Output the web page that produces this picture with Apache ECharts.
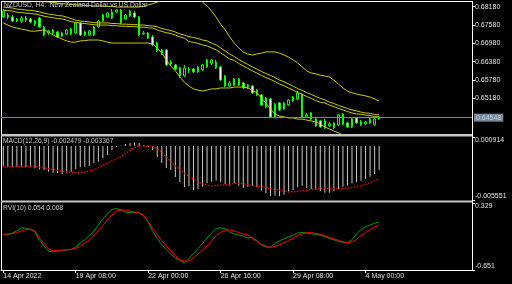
<!DOCTYPE html>
<html><head><meta charset="utf-8">
<script src="https://cdn.jsdelivr.net/npm/echarts@6/dist/echarts.min.js"></script>
<style>html,body{margin:0;padding:0;background:#000}#c{width:512px;height:284px}</style>
</head><body><div id="c"></div><script>
const symbolTitle = 'NZDUSD, H4:  New Zealand Dollar vs US Dollar';

const opens = [0.67843,0.67843,0.67843,0.67712,0.67712,0.67745,0.67777,0.67712,0.67810,0.67516,
0.67320,0.67320,0.67352,0.67221,0.67287,0.67287,0.67320,0.67647,0.67254,0.67254,
0.67254,0.67516,0.67712,0.67843,0.67810,0.68006,0.68072,0.67777,0.67876,0.67974,
0.67843,0.67287,0.67320,0.67189,0.66992,0.66665,0.66764,0.66306,0.66273,0.66175,
0.65913,0.66110,0.66142,0.66044,0.66110,0.66208,0.66338,0.66371,0.66208,0.65913,
0.65586,0.65619,0.65815,0.65684,0.65554,0.65586,0.65456,0.65292,0.65194,0.65161,
0.64573,0.65030,0.64834,0.64965,0.65096,0.65161,0.65325,0.64573,0.64703,0.64507,
0.64442,0.64213,0.64278,0.64213,0.64311,0.64671,0.64376,0.64246,0.64540,0.64311,
0.64344,0.64376,0.64311,0.64507];
const closes = [0.68039,0.67908,0.67712,0.67777,0.67810,0.67810,0.67679,0.67614,0.67516,0.67254,
0.67385,0.67418,0.67189,0.67320,0.67418,0.67450,0.67647,0.67254,0.67352,0.67385,
0.67516,0.67712,0.67908,0.67974,0.68006,0.68072,0.67647,0.67908,0.68039,0.67843,
0.67254,0.67320,0.67156,0.66927,0.66731,0.66764,0.66273,0.66371,0.66142,0.65913,
0.66175,0.66142,0.66044,0.66208,0.66273,0.66437,0.66437,0.66175,0.65783,0.65586,
0.65684,0.65815,0.65619,0.65521,0.65619,0.65357,0.65292,0.64965,0.64900,0.64573,
0.64998,0.64802,0.65030,0.65129,0.65227,0.65357,0.64573,0.64638,0.64507,0.64278,
0.64246,0.64442,0.64344,0.64376,0.64638,0.64344,0.64246,0.64507,0.64376,0.64409,
0.64409,0.64507,0.64507,0.64548];
const lows = [0.67810,0.67777,0.67679,0.67679,0.67647,0.67679,0.67647,0.67548,0.67500,0.67221,
0.67254,0.67254,0.67156,0.67189,0.67254,0.67254,0.67287,0.67221,0.67221,0.67221,
0.67221,0.67483,0.67679,0.67810,0.67777,0.67974,0.67614,0.67745,0.67843,0.67810,
0.67221,0.67254,0.67123,0.66894,0.66698,0.66600,0.66240,0.66240,0.66110,0.65848,
0.65881,0.66011,0.66011,0.66011,0.66077,0.66175,0.66273,0.66142,0.65750,0.65554,
0.65554,0.65586,0.65586,0.65488,0.65488,0.65325,0.65259,0.64932,0.64867,0.64540,
0.64540,0.64769,0.64802,0.64932,0.65063,0.65129,0.64540,0.64540,0.64475,0.64246,
0.64213,0.64180,0.64246,0.64180,0.64278,0.64311,0.64213,0.64213,0.64344,0.64278,
0.64311,0.64344,0.64278,0.64475];
const highs = [0.68104,0.67974,0.67908,0.67810,0.67876,0.67876,0.67810,0.67745,0.67843,0.67548,
0.67418,0.67450,0.67385,0.67352,0.67450,0.67483,0.67679,0.67679,0.67385,0.67418,
0.67548,0.67745,0.67941,0.68006,0.68104,0.68104,0.68104,0.67941,0.68072,0.68039,
0.67876,0.67385,0.67352,0.67254,0.67025,0.66796,0.66796,0.66437,0.66306,0.66208,
0.66273,0.66208,0.66175,0.66240,0.66306,0.66469,0.66469,0.66437,0.66240,0.65946,
0.65750,0.65848,0.65848,0.65717,0.65652,0.65619,0.65488,0.65325,0.65227,0.65194,
0.65030,0.65063,0.65063,0.65161,0.65259,0.65423,0.65357,0.64703,0.64736,0.64540,
0.64475,0.64507,0.64409,0.64409,0.64671,0.64703,0.64409,0.64540,0.64573,0.64475,
0.64442,0.64540,0.64540,0.64605];

const bbUpper = [0.6853,0.6850,0.6848,0.6847,0.6845,0.6843,0.6842,0.6840,0.6837,0.6835,
0.6833,0.6832,0.6830,0.6828,0.6827,0.6825,0.6824,0.6824,0.6822,0.6822,
0.6820,0.6820,0.6820,0.6819,0.6819,0.6817,0.6817,0.6817,0.6817,0.6817,
0.6817,0.6819,0.6824,0.6828,0.6833,0.6840,0.6847,0.6850,0.6853,0.6853,
0.6853,0.6851,0.6848,0.6843,0.6833,0.6820,0.6804,0.6784,0.6761,0.6742,
0.6719,0.6699,0.6683,0.6670,0.6663,0.6660,0.6663,0.6666,0.6670,0.6670,
0.6670,0.6666,0.6660,0.6653,0.6644,0.6634,0.6621,0.6608,0.6601,0.6598,
0.6594,0.6591,0.6588,0.6578,0.6565,0.6552,0.6542,0.6536,0.6532,0.6529,
0.6526,0.6522,0.6516,0.6509];
const bbMiddle = [0.6817,0.6815,0.6814,0.6810,0.6809,0.6807,0.6806,0.6804,0.6801,0.6797,
0.6794,0.6792,0.6789,0.6788,0.6784,0.6779,0.6774,0.6771,0.6770,0.6768,
0.6766,0.6765,0.6765,0.6765,0.6763,0.6763,0.6761,0.6761,0.6760,0.6760,
0.6758,0.6758,0.6756,0.6755,0.6752,0.6747,0.6743,0.6740,0.6735,0.6729,
0.6725,0.6720,0.6717,0.6714,0.6709,0.6706,0.6699,0.6693,0.6683,0.6673,
0.6663,0.6655,0.6645,0.6637,0.6629,0.6621,0.6614,0.6606,0.6599,0.6593,
0.6586,0.6578,0.6572,0.6565,0.6558,0.6550,0.6544,0.6537,0.6531,0.6524,
0.6518,0.6513,0.6506,0.6501,0.6495,0.6490,0.6485,0.6480,0.6477,0.6473,
0.6470,0.6469,0.6465,0.6464];
const maLine = [0.6807,0.6805,0.6804,0.6800,0.6799,0.6797,0.6796,0.6794,0.6791,0.6787,
0.6784,0.6782,0.6779,0.6778,0.6774,0.6769,0.6767,0.6764,0.6763,0.6761,
0.6759,0.6758,0.6758,0.6758,0.6756,0.6756,0.6754,0.6754,0.6753,0.6753,
0.6751,0.6751,0.6749,0.6748,0.6742,0.6737,0.6733,0.6730,0.6725,0.6719,
0.6715,0.6704,0.6701,0.6698,0.6693,0.6690,0.6683,0.6677,0.6667,0.6657,
0.6647,0.6642,0.6632,0.6624,0.6616,0.6608,0.6601,0.6593,0.6586,0.6580,
0.6573,0.6565,0.6559,0.6552,0.6545,0.6537,0.6531,0.6524,0.6518,0.6511,
0.6505,0.6503,0.6496,0.6491,0.6485,0.6480,0.6475,0.6470,0.6467,0.6466,
0.6463,0.6462,0.6458,0.6457];
const bbLower = [0.6765,0.6758,0.6752,0.6748,0.6745,0.6742,0.6738,0.6738,0.6740,0.6742,
0.6735,0.6725,0.6719,0.6712,0.6706,0.6702,0.6702,0.6706,0.6707,0.6709,
0.6709,0.6709,0.6706,0.6702,0.6699,0.6699,0.6699,0.6699,0.6699,0.6699,
0.6699,0.6699,0.6699,0.6696,0.6683,0.6666,0.6644,0.6624,0.6608,0.6588,
0.6571,0.6558,0.6549,0.6545,0.6542,0.6545,0.6549,0.6549,0.6552,0.6552,
0.6552,0.6555,0.6555,0.6555,0.6552,0.6545,0.6536,0.6519,0.6503,0.6483,
0.6467,0.6460,0.6457,0.6454,0.6454,0.6450,0.6450,0.6447,0.6444,0.6441,
0.6434,0.6424,0.6418,0.6411,0.6405,0.6398,0.6395,0.6391,0.6388,0.6388,
0.6388,0.6385,0.6385,0.6385];

const macdMain = [-0.002114,-0.002134,-0.002134,-0.002134,-0.002196,-0.002196,-0.002196,-0.002298,-0.002401,-0.002473,
-0.002647,-0.002750,-0.002811,-0.002914,-0.002750,-0.002647,-0.002401,-0.002196,-0.002134,-0.002062,
-0.001785,-0.001621,-0.001272,-0.000934,-0.000421,-0.000113,0.000041,0.000195,0.000298,0.000349,
0.000298,0.000092,-0.000113,-0.000421,-0.001139,-0.001754,-0.002267,-0.002473,-0.003191,-0.003704,
-0.004217,-0.004114,-0.004525,-0.004422,-0.004186,-0.003837,-0.003673,-0.003570,-0.003735,-0.003909,
-0.004083,-0.003837,-0.004083,-0.004319,-0.004186,-0.004083,-0.004248,-0.004596,-0.004863,-0.005140,
-0.005109,-0.005171,-0.005007,-0.004761,-0.004525,-0.004248,-0.004083,-0.004350,-0.004422,-0.004525,
-0.004658,-0.004802,-0.004802,-0.004658,-0.004422,-0.004186,-0.004083,-0.003837,-0.003735,-0.003570,
-0.003396,-0.003160,-0.002883,-0.002479];
const macdSignal = [-0.002165,-0.002144,-0.002124,-0.002103,-0.002083,-0.002073,-0.002062,-0.002073,-0.002165,-0.002247,
-0.002329,-0.002421,-0.002503,-0.002586,-0.002668,-0.002709,-0.002739,-0.002780,-0.002698,-0.002575,
-0.002473,-0.002237,-0.001990,-0.001754,-0.001539,-0.001324,-0.001098,-0.000780,-0.000451,-0.000174,
-0.000041,-0.000010,-0.000010,-0.000041,-0.000318,-0.000677,-0.001118,-0.001652,-0.002062,-0.002421,
-0.002780,-0.003140,-0.003396,-0.003704,-0.003889,-0.004042,-0.004114,-0.004073,-0.004032,-0.003981,
-0.003930,-0.003868,-0.003806,-0.003878,-0.003960,-0.004042,-0.004114,-0.004196,-0.004289,-0.004381,
-0.004463,-0.004545,-0.004627,-0.004709,-0.004719,-0.004658,-0.004586,-0.004525,-0.004473,-0.004412,
-0.004350,-0.004330,-0.004350,-0.004381,-0.004412,-0.004391,-0.004340,-0.004278,-0.004217,-0.004094,
-0.003940,-0.003786,-0.003581,-0.003367];

const rviMain = [-0.132,-0.139,-0.110,-0.081,-0.037,-0.037,-0.059,-0.095,-0.212,-0.300,
-0.373,-0.388,-0.373,-0.366,-0.359,-0.351,-0.315,-0.256,-0.205,-0.146,
-0.088,0.007,0.095,0.168,0.234,0.249,0.227,0.197,0.193,0.192,
0.187,0.139,0.051,-0.088,-0.190,-0.278,-0.351,-0.417,-0.476,-0.512,
-0.549,-0.483,-0.410,-0.337,-0.263,-0.183,-0.110,-0.044,-0.034,-0.051,
-0.095,-0.124,-0.139,-0.154,-0.183,-0.176,-0.220,-0.285,-0.315,-0.315,
-0.263,-0.222,-0.198,-0.168,-0.139,-0.110,-0.103,-0.110,-0.119,-0.130,
-0.142,-0.164,-0.187,-0.209,-0.233,-0.246,-0.249,-0.209,-0.124,-0.059,
-0.018,0.007,0.034,0.054];
const rviSignal = [-0.129,-0.124,-0.117,-0.103,-0.081,-0.063,-0.051,-0.081,-0.183,-0.263,
-0.337,-0.370,-0.366,-0.361,-0.356,-0.347,-0.337,-0.300,-0.259,-0.212,
-0.154,-0.073,0.000,0.080,0.154,0.212,0.227,0.224,0.212,0.197,
0.183,0.154,0.058,-0.044,-0.132,-0.220,-0.300,-0.373,-0.439,-0.502,
-0.519,-0.519,-0.476,-0.417,-0.359,-0.300,-0.227,-0.146,-0.103,-0.066,
-0.063,-0.081,-0.103,-0.124,-0.139,-0.190,-0.234,-0.275,-0.303,-0.322,
-0.304,-0.285,-0.253,-0.220,-0.187,-0.146,-0.122,-0.107,-0.104,-0.116,
-0.127,-0.151,-0.173,-0.195,-0.217,-0.239,-0.252,-0.239,-0.205,-0.146,
-0.107,-0.062,-0.025,0.008];

const tickIndex = [0, 16, 32, 48, 64, 80];
const tickLabels = ['14 Apr 2022', '19 Apr 08:00', '22 Apr 00:00', '26 Apr 16:00', '29 Apr 08:00', '4 May 00:00'];
const priceTicks = [0.68180, 0.67580, 0.66980, 0.66380, 0.65780, 0.65180];
const priceRange = [0.64013, 0.68334];
const macdRange = [-0.005551, 0.000914];
const rviRange = [-0.651, 0.329];
const slotCount = 104;

const slots = [];
for (let i = 0; i < slotCount; i++) slots.push(String(i));
const candleData = opens.map((o, i) => [o, closes[i], lows[i], highs[i]]);
const last = closes.length - 1;
const bid = closes[last];
const macdTitle = 'MACD(12,26,9) ' + macdMain[last].toFixed(6) + ' ' + macdSignal[last].toFixed(6);
const rviTitle = 'RVI(10) ' + rviMain[last].toFixed(3) + ' ' + rviSignal[last].toFixed(3);

const FONT = 'Liberation Sans';
const TXT = '#e0e0e0';
const lbl = { color: TXT, fontSize: 7, fontFamily: FONT, margin: 3 };
const showTick = (idx) => tickIndex.indexOf(idx) >= 0;

function xAx(g, show) {
  return {
    type: 'category', gridIndex: g, data: slots, boundaryGap: true, show: show,
    axisLine: { show: show, onZero: false, lineStyle: { color: '#ffffff', width: 1 } },
    axisTick: { show: show, alignWithLabel: true, interval: showTick, length: 3, lineStyle: { color: '#ffffff' } },
    axisLabel: Object.assign({}, lbl, {
      show: show, interval: showTick, align: 'left',
      formatter: (v, idx) => { const k = tickIndex.indexOf(idx); return k >= 0 ? tickLabels[k] : ''; }
    }),
    splitLine: { show: false }
  };
}
function yAx(g, range, ticks, dec, edge) {
  const al = Object.assign({}, lbl, { customValues: ticks, formatter: v => v.toFixed(dec) });
  if (edge) { al.verticalAlignMaxLabel = 'top'; al.verticalAlignMinLabel = 'bottom'; }
  return {
    type: 'value', gridIndex: g, position: 'right', min: range[0], max: range[1],
    axisLine: { show: true, onZero: false, lineStyle: { color: '#ffffff', width: 1 } },
    axisTick: { show: true, length: 3, customValues: ticks, lineStyle: { color: '#ffffff' } },
    axisLabel: al, splitLine: { show: false }
  };
}
const yellow = { color: '#cccc00', width: 1 };
function ln(data, style, xi, yi) {
  return { type: 'line', data: data, xAxisIndex: xi, yAxisIndex: yi, showSymbol: false, silent: true, lineStyle: style, clip: true };
}
const titleStyle = { color: '#c8c8c8', fontSize: 6.7, fontWeight: 'normal', fontFamily: FONT };

const bidSeries = ln([], { color: '#778899', width: 1 }, 0, 0);
bidSeries.markLine = {
  silent: true, symbol: ['none', 'none'], animation: false, precision: 5,
  data: [{ yAxis: bid }],
  lineStyle: { color: '#778899', width: 1, type: 'solid' },
  label: { show: true, position: 'end', distance: 2, formatter: () => bid.toFixed(5),
    backgroundColor: '#778899', color: '#c4ccd4', fontSize: 7, fontFamily: FONT, padding: [1, 2, 0, 2] }
};

const chart = echarts.init(document.getElementById('c'), null, { renderer: 'canvas' });
chart.setOption({
  backgroundColor: '#000000',
  animation: false,
  title: [
    { text: symbolTitle, left: 4, top: 2, padding: 0, textStyle: titleStyle },
    { text: macdTitle, left: 3, top: 138, padding: 0, textStyle: titleStyle },
    { text: rviTitle, left: 3, top: 204.5, padding: 0, textStyle: titleStyle }
  ],
  grid: [
    { left: 1, right: 40, top: 2, height: 132 },
    { left: 1, right: 40, top: 137, height: 63 },
    { left: 1, right: 40, top: 203, height: 67 }
  ],
  xAxis: [xAx(0, false), xAx(1, false), xAx(2, true)],
  yAxis: [
    yAx(0, priceRange, priceTicks, 5, false),
    yAx(1, macdRange, [macdRange[0], macdRange[1]], 6, true),
    yAx(2, rviRange, [rviRange[0], rviRange[1]], 3, true)
  ],
  series: [
    bidSeries,
    {
      type: 'candlestick', data: candleData, xAxisIndex: 0, yAxisIndex: 0, barWidth: 2,
      itemStyle: { color: '#000000', color0: '#ffffff', borderColor: '#00ff00', borderColor0: '#00ff00', borderWidth: 1 }
    },
    ln(bbUpper, yellow, 0, 0),
    ln(bbMiddle, yellow, 0, 0),
    ln(maLine, yellow, 0, 0),
    ln(bbLower, yellow, 0, 0),
    { type: 'bar', data: macdMain, xAxisIndex: 1, yAxisIndex: 1, barWidth: 1, silent: true, itemStyle: { color: '#c8c8c8' } },
    ln(macdSignal, { color: '#ff0000', width: 1.3, type: [1.5, 1.5] }, 1, 1),
    ln(rviMain, { color: '#00a000', width: 1 }, 2, 2),
    ln(rviSignal, { color: '#ff0000', width: 1 }, 2, 2)
  ],
  graphic: [
    { type: 'line', silent: true, shape: { x1: 1, y1: 1.5, x2: 472, y2: 1.5 }, style: { stroke: '#ffffff', lineWidth: 1 } },
    { type: 'line', silent: true, shape: { x1: 1.5, y1: 1, x2: 1.5, y2: 271 }, style: { stroke: '#ffffff', lineWidth: 1 } },
    { type: 'line', silent: true, shape: { x1: 472.5, y1: 1, x2: 472.5, y2: 271 }, style: { stroke: '#ffffff', lineWidth: 1 } },
    { type: 'rect', silent: true, shape: { x: 1, y: 134, width: 471, height: 2.5 }, style: { fill: '#c4c4c4' } },
    { type: 'rect', silent: true, shape: { x: 1, y: 200.5, width: 471, height: 2 }, style: { fill: '#c4c4c4' } }
  ]
});
</script></body></html>
